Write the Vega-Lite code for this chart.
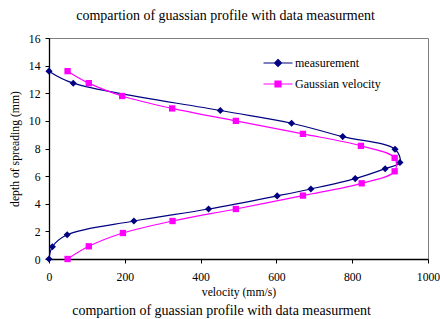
{
  "$schema": "https://vega.github.io/schema/vega-lite/v6.json",
  "autosize": "none",
  "width": 379,
  "height": 221,
  "padding": {"left": 49, "top": 38, "right": 12, "bottom": 60},
  "background": "white",
  "title": {
    "text": "compartion of guassian profile with data measurment",
    "font": "Liberation Serif",
    "fontSize": 14,
    "fontWeight": "normal",
    "color": "#000",
    "anchor": "middle",
    "frame": "group",
    "dx": -13,
    "offset": 10
  },
  "config": {
    "view": {"stroke": "#808080", "strokeWidth": 1},
    "axis": {
      "labelFont": "Liberation Serif",
      "labelFontSize": 11.7,
      "labelColor": "#000",
      "titleFont": "Liberation Serif",
      "titleFontSize": 11.7,
      "titleFontWeight": "normal",
      "titleColor": "#000",
      "domainColor": "#000",
      "domainWidth": 1.3,
      "tickColor": "#000",
      "tickSize": 4,
      "grid": false
    },
    "legend": {
      "labelFont": "Liberation Serif",
      "labelFontSize": 12,
      "labelColor": "#000"
    }
  },
  "data": {
    "values": [
      {"series": "measurement", "idx": 0, "vel": 0, "depth": 0},
      {"series": "measurement", "idx": 1, "vel": 9, "depth": 0.89},
      {"series": "measurement", "idx": 2, "vel": 48, "depth": 1.76},
      {"series": "measurement", "idx": 3, "vel": 224, "depth": 2.75},
      {"series": "measurement", "idx": 4, "vel": 421, "depth": 3.62},
      {"series": "measurement", "idx": 5, "vel": 602, "depth": 4.57},
      {"series": "measurement", "idx": 6, "vel": 691, "depth": 5.07},
      {"series": "measurement", "idx": 7, "vel": 808, "depth": 5.82},
      {"series": "measurement", "idx": 8, "vel": 887, "depth": 6.54},
      {"series": "measurement", "idx": 9, "vel": 926, "depth": 6.98},
      {"series": "measurement", "idx": 10, "vel": 913, "depth": 7.95},
      {"series": "measurement", "idx": 11, "vel": 775, "depth": 8.86},
      {"series": "measurement", "idx": 12, "vel": 640, "depth": 9.83},
      {"series": "measurement", "idx": 13, "vel": 452, "depth": 10.75},
      {"series": "measurement", "idx": 14, "vel": 64, "depth": 12.73},
      {"series": "measurement", "idx": 15, "vel": 0, "depth": 13.6},
      {"series": "Gaussian velocity", "idx": 0, "vel": 49, "depth": 0},
      {"series": "Gaussian velocity", "idx": 1, "vel": 105, "depth": 0.92},
      {"series": "Gaussian velocity", "idx": 2, "vel": 195, "depth": 1.88},
      {"series": "Gaussian velocity", "idx": 3, "vel": 326, "depth": 2.75},
      {"series": "Gaussian velocity", "idx": 4, "vel": 493, "depth": 3.62},
      {"series": "Gaussian velocity", "idx": 5, "vel": 670, "depth": 4.59},
      {"series": "Gaussian velocity", "idx": 6, "vel": 825, "depth": 5.48},
      {"series": "Gaussian velocity", "idx": 7, "vel": 912, "depth": 6.35},
      {"series": "Gaussian velocity", "idx": 8, "vel": 912, "depth": 7.32},
      {"series": "Gaussian velocity", "idx": 9, "vel": 823, "depth": 8.19},
      {"series": "Gaussian velocity", "idx": 10, "vel": 670, "depth": 9.06},
      {"series": "Gaussian velocity", "idx": 11, "vel": 493, "depth": 10.0},
      {"series": "Gaussian velocity", "idx": 12, "vel": 325, "depth": 10.9},
      {"series": "Gaussian velocity", "idx": 13, "vel": 193, "depth": 11.8},
      {"series": "Gaussian velocity", "idx": 14, "vel": 105, "depth": 12.73},
      {"series": "Gaussian velocity", "idx": 15, "vel": 49, "depth": 13.6}
    ]
  },
  "resolve": {"scale": {"x": "independent"}, "axis": {"x": "independent"}},
  "layer": [
    {
      "mark": {"type": "line", "interpolate": "catmull-rom", "strokeWidth": 1.2},
      "encoding": {
        "x": {
          "field": "vel", "type": "quantitative",
          "scale": {"domain": [0, 1000], "nice": false},
          "axis": {"orient": "bottom", "values": [0, 200, 400, 600, 800, 1000], "format": "d", "title": "velocity (mm/s)", "labelPadding": 8, "titlePadding": 4, "labelFlush": false}
        },
        "y": {
          "field": "depth", "type": "quantitative",
          "scale": {"domain": [0, 16], "nice": false},
          "axis": {"values": [0, 2, 4, 6, 8, 10, 12, 14, 16], "title": "depth of spreading (mm)", "labelPadding": 5, "titlePadding": 8, "labelOverlap": false}
        },
        "order": {"field": "idx", "type": "quantitative"},
        "color": {
          "field": "series", "type": "nominal",
          "scale": {"domain": ["measurement", "Gaussian velocity"], "range": ["#000080", "#FF00FF"]},
          "legend": {
            "title": null,
            "orient": "none",
            "legendX": 223,
            "legendY": 19,
            "symbolSize": 100,
            "labelOffset": 11,
            "rowPadding": 9,
            "encode": {
              "symbols": {
                "update": {
                  "shape": {"signal": "datum.value === 'measurement' ? 'M-2.9,0H2.9M0,-0.7L0.7,0L0,0.7L-0.7,0Z' : 'M-2.9,0H2.9M-0.6,-0.6H0.6V0.6H-0.6Z'"},
                  "fill": {"signal": "datum.value === 'measurement' ? '#000080' : '#FF00FF'"},
                  "stroke": {"signal": "datum.value === 'measurement' ? '#000080' : '#FF00FF'"},
                  "strokeWidth": {"value": 1.2},
                  "size": {"value": 100},
                  "opacity": {"value": 1}
                }
              }
            }
          }
        }
      }
    },
    {
      "transform": [{"filter": "datum.series === 'measurement'"}],
      "mark": {"type": "point", "filled": true, "opacity": 1, "shape": "diamond", "size": 50, "color": "#000080"},
      "encoding": {
        "x": {
          "field": "vel", "type": "quantitative",
          "scale": {"domain": [0, 1000], "nice": false},
          "axis": {"orient": "bottom", "labels": false, "ticks": false, "domain": false, "title": "compartion of guassian profile with data measurment", "titleFontSize": 14, "titleX": 172, "offset": 42, "titlePadding": 2}
        },
        "y": {
          "field": "depth", "type": "quantitative",
          "scale": {"domain": [0, 16], "nice": false},
          "axis": {"values": [0, 2, 4, 6, 8, 10, 12, 14, 16], "title": "depth of spreading (mm)", "labelPadding": 5, "titlePadding": 8, "labelOverlap": false}
        }
      }
    },
    {
      "transform": [{"filter": "datum.series === 'Gaussian velocity'"}],
      "mark": {"type": "point", "filled": true, "opacity": 1, "shape": "square", "size": 40, "color": "#FF00FF"},
      "encoding": {
        "x": {
          "field": "vel", "type": "quantitative",
          "scale": {"domain": [0, 1000], "nice": false},
          "axis": null
        },
        "y": {
          "field": "depth", "type": "quantitative",
          "scale": {"domain": [0, 16], "nice": false},
          "axis": {"values": [0, 2, 4, 6, 8, 10, 12, 14, 16], "title": "depth of spreading (mm)", "labelPadding": 5, "titlePadding": 8, "labelOverlap": false}
        }
      }
    }
  ]
}
